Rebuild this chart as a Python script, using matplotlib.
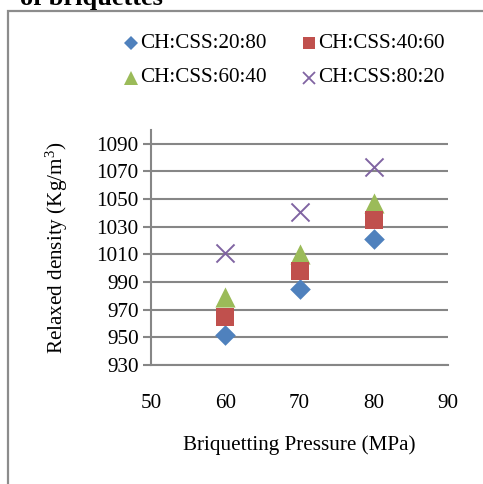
import matplotlib.pyplot as plt
from matplotlib.patches import Rectangle

pressure = [60, 70, 80]
ratio_20_80 = [952, 985, 1021]
ratio_40_60 = [965, 998, 1035]
ratio_60_40 = [979, 1010, 1047]
ratio_80_20 = [1011, 1041, 1073]
series_labels = ["CH:CSS:20:80", "CH:CSS:40:60", "CH:CSS:60:40", "CH:CSS:80:20"]
y_ticks = [930, 950, 970, 990, 1010, 1030, 1050, 1070, 1090]
x_ticks = [50, 60, 70, 80, 90]

plt.rcParams["font.family"] = ["Liberation Serif", "DejaVu Serif"]
plt.rcParams["mathtext.fontset"] = "custom"
plt.rcParams["mathtext.rm"] = "Liberation Serif"

W, H = 483, 484
fig = plt.figure(figsize=(W / 100, H / 100), dpi=100)

# cropped title and chart frame
fig.text(20 / W, 1 - 5 / H, "of briquettes", fontsize=19, fontweight="bold",
         va="baseline", ha="left")
fig.patches.append(Rectangle((7.5 / W, -0.1), 1.2, 1 - 11 / H + 0.1,
                             transform=fig.transFigure, fill=False,
                             edgecolor="#8c8c8c", linewidth=1.6))

ax = fig.add_axes([151 / W, 1 - 365 / H, (448 - 151) / W, (365 - 130) / H])

grey = "#868686"
ax.scatter(pressure, ratio_20_80, marker="D", s=10.5 ** 2, color="#4F81BD", zorder=3, linewidths=0)
ax.scatter(pressure, ratio_40_60, marker="s", s=13.5 ** 2, color="#C0504D", zorder=3, linewidths=0)
ax.scatter(pressure, ratio_60_40, marker="^", s=14.5 ** 2, color="#9BBB59", zorder=2, linewidths=0)
ax.scatter(pressure, ratio_80_20, marker="x", s=13 ** 2, color="#8064A2", zorder=3, linewidths=1.4)

ax.set_xlim(50, 90)
ax.set_ylim(930, 1100)
ax.set_xticks(x_ticks)
ax.set_yticks(y_ticks)
ax.yaxis.grid(True, color=grey, linewidth=1.5)
ax.set_axisbelow(True)
for side in ["top", "right"]:
    ax.spines[side].set_visible(False)
for side in ["left", "bottom"]:
    ax.spines[side].set_color(grey)
    ax.spines[side].set_linewidth(1.5)
ax.tick_params(axis="y", length=6, width=1.5, color=grey, labelsize=15.2, pad=3)
ax.tick_params(axis="x", length=0, labelsize=15.2, pad=21)

ax.set_xlabel("Briquetting Pressure (MPa)", fontsize=15.2, labelpad=16)
ax.set_ylabel(r"Relaxed density (Kg/m$\mathregular{^3}$)", fontsize=15.2, labelpad=19)

# legend drawn as figure text
leg_x = [131, 309]
leg_y = [43, 78]
markers = [("D", 7, "#4F81BD"), ("s", 9, "#C0504D"), ("^", 10, "#9BBB59"), ("x", 9, "#8064A2")]
for i, label in enumerate(series_labels):
    mx = leg_x[i % 2] / W
    my = 1 - leg_y[i // 2] / H
    m, ms, c = markers[i]
    fig.add_artist(plt.Line2D([mx], [my], marker=m, markersize=ms, color=c,
                              markeredgewidth=1.3 if m == "x" else 0,
                              transform=fig.transFigure))
    fig.text(mx + 9 / W, my, label, fontsize=15.2, va="center", ha="left")

fig.savefig("out.png", dpi=100)
